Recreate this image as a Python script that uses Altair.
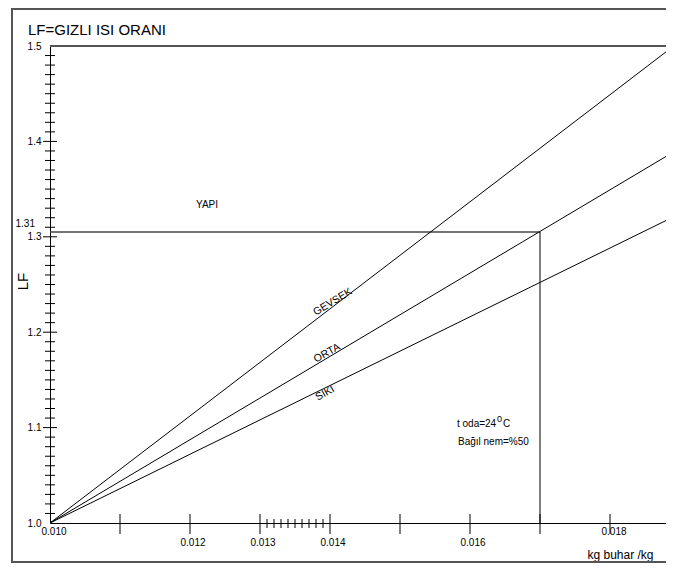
import altair as alt
import pandas as pd

FONT = "Liberation Sans"

# ---- data -------------------------------------------------------------
X_MIN, X_MAX = 0.010, 0.0188
Y_MIN, Y_MAX = 1.0, 1.5

line_x = [0.010, 0.01891]
gevsek_lf = [1.0, 1.5]
orta_lf = [1.0, 1.389]
siki_lf = [1.0, 1.321]

label_names = ["GEVSEK", "ORTA", "SIKI"]
label_x = [0.01404, 0.013957, 0.013929]
label_y = [1.2317, 1.178, 1.136]
label_angle = [329, 331, 331]

y_label_values = [1.0, 1.1, 1.2, 1.3, 1.4, 1.5]
y_major_ticks = [1.1, 1.2, 1.3, 1.4]
y_minor_ticks = [round(1 + i / 100, 2) for i in range(1, 50) if i % 10 != 0]

x_major_ticks = [0.011, 0.012, 0.013, 0.014, 0.015, 0.016, 0.017, 0.018]
x_minor_ticks = [0.0131, 0.0132, 0.0133, 0.0134, 0.0135, 0.0136, 0.0137, 0.0138, 0.0139]

x_labels_high = ["0.010", "0.018"]
x_labels_high_v = [0.010, 0.018]
x_labels_low = ["0.012", "0.013", "0.014", "0.016"]
x_labels_low_v = [0.012, 0.013, 0.014, 0.016]

ref_x = 0.017
ref_y = 1.305

W, H = 616, 477

# ---- tables -----------------------------------------------------------
lines_df = pd.DataFrame({
    "x": line_x * 3,
    "lf": gevsek_lf + orta_lf + siki_lf,
    "seri": ["GEVSEK"] * 2 + ["ORTA"] * 2 + ["SIKI"] * 2,
})
labels_df = pd.DataFrame({"t": label_names, "x": label_x, "y": label_y, "a": label_angle})

xs = alt.Scale(domain=[X_MIN, X_MAX], nice=False, zero=False)
ys = alt.Scale(domain=[Y_MIN, Y_MAX], nice=False, zero=False)

one = pd.DataFrame({"d": [0]})

# frame
frame = alt.Chart(one).mark_rect(fill=None, stroke="#555555", strokeWidth=2).encode(
    x=alt.value(-38), x2=alt.value(W + 30), y=alt.value(-37), y2=alt.value(H + 39)
)

# base with axes
base = alt.Chart(lines_df).mark_line(color="black", strokeWidth=1, clip=True).encode(
    x=alt.X("x:Q", scale=xs, axis=alt.Axis(
        labels=False, ticks=False, grid=False, domain=True, domainColor="black",
        domainWidth=1, title="kg buhar /kg", titleFont=FONT, titleFontSize=12,
        titleFontWeight="normal", titleColor="black", titleX=570, titleY=31,
        titleBaseline="middle", titleAlign="center")),
    y=alt.Y("lf:Q", scale=ys, axis=alt.Axis(
        values=y_label_values, format=".1f", ticks=False, grid=False, domain=True,
        domainColor="black", domainWidth=1, labelFont=FONT, labelFontSize=10,
        labelColor="black", labelPadding=9, labelFlush=False, title="LF",
        titleFont=FONT, titleFontSize=15, titleFontWeight="normal",
        titleColor="black", titleX=-28, titleY=235, titleBaseline="middle")),
    detail="seri:N",
)

# top line at 1.5
top_line = alt.Chart(pd.DataFrame({"x": [X_MIN], "x2": [0.01891], "y": [Y_MAX]})).mark_rule(
    color="#555555", strokeWidth=2).encode(
    x=alt.X("x:Q", scale=xs), x2="x2:Q", y=alt.Y("y:Q", scale=ys))

# reference lines
ref_h = alt.Chart(pd.DataFrame({"x": [X_MIN], "x2": [ref_x], "y": [ref_y]})).mark_rule(
    color="#444444", strokeWidth=1.5).encode(
    x=alt.X("x:Q", scale=xs), x2="x2:Q", y=alt.Y("y:Q", scale=ys))
ref_v = alt.Chart(pd.DataFrame({"x": [ref_x], "y": [Y_MIN], "y2": [ref_y]})).mark_rule(
    color="black", strokeWidth=1).encode(
    x=alt.X("x:Q", scale=xs), y=alt.Y("y:Q", scale=ys), y2="y2:Q")

# ticks
ytm = alt.Chart(pd.DataFrame({"v": y_major_ticks})).mark_rule(color="black").encode(
    y=alt.Y("v:Q", scale=ys), x=alt.value(-7), x2=alt.value(7))
ytn = alt.Chart(pd.DataFrame({"v": y_minor_ticks})).mark_rule(color="black").encode(
    y=alt.Y("v:Q", scale=ys), x=alt.value(-5), x2=alt.value(5))
xtm = alt.Chart(pd.DataFrame({"v": x_major_ticks})).mark_rule(color="black").encode(
    x=alt.X("v:Q", scale=xs), y=alt.value(H - 9), y2=alt.value(H + 11))
xtn = alt.Chart(pd.DataFrame({"v": x_minor_ticks})).mark_rule(color="black").encode(
    x=alt.X("v:Q", scale=xs), y=alt.value(H - 4), y2=alt.value(H + 5))

# x labels
xl_hi = alt.Chart(pd.DataFrame({"t": x_labels_high, "v": x_labels_high_v, "y": [Y_MIN] * 2})).mark_text(
    font=FONT, fontSize=10, color="black", dx=4, dy=9, baseline="middle").encode(
    x=alt.X("v:Q", scale=xs), y=alt.Y("y:Q", scale=ys), text="t:N")
xl_lo = alt.Chart(pd.DataFrame({"t": x_labels_low, "v": x_labels_low_v, "y": [Y_MIN] * 4})).mark_text(
    font=FONT, fontSize=10, color="black", dx=3, dy=20, baseline="middle").encode(
    x=alt.X("v:Q", scale=xs), y=alt.Y("y:Q", scale=ys), text="t:N")

# extra y label 1.31
yl131 = alt.Chart(pd.DataFrame({"t": ["1.31"], "x": [X_MIN], "y": [1.31]})).mark_text(
    font=FONT, fontSize=10, color="black", dx=-15, dy=-3, align="right", baseline="middle").encode(
    x=alt.X("x:Q", scale=xs), y=alt.Y("y:Q", scale=ys), text="t:N")

# series labels
slab = alt.Chart(labels_df).mark_text(font=FONT, fontSize=10.5, color="black", baseline="middle").encode(
    x=alt.X("x:Q", scale=xs), y=alt.Y("y:Q", scale=ys), text="t:N",
    angle=alt.Angle("a:Q", scale=None))

# title
title = alt.Chart(pd.DataFrame({"t": ["LF=GIZLI ISI ORANI"], "x": [X_MIN], "y": [Y_MAX]})).mark_text(
    font=FONT, fontSize=15, color="black", dx=-22, dy=-11, align="left", baseline="alphabetic").encode(
    x=alt.X("x:Q", scale=xs), y=alt.Y("y:Q", scale=ys), text="t:N")

# annotations
yapi = alt.Chart(pd.DataFrame({"t": ["YAPI"], "x": [0.012243], "y": [1.333]})).mark_text(
    font=FONT, fontSize=10, color="black", baseline="middle").encode(
    x=alt.X("x:Q", scale=xs), y=alt.Y("y:Q", scale=ys), text="t:N")

ann_x = 0.015814
toda = alt.Chart(pd.DataFrame({"t": ["t oda=24"], "x": [ann_x], "y": [1.1006]})).mark_text(
    font=FONT, fontSize=10, color="black", align="left", baseline="alphabetic").encode(
    x=alt.X("x:Q", scale=xs), y=alt.Y("y:Q", scale=ys), text="t:N")
sup0 = alt.Chart(pd.DataFrame({"t": ["0"], "x": [ann_x], "y": [1.1006]})).mark_text(
    font=FONT, fontSize=9, color="black", align="left", baseline="alphabetic", dx=40, dy=-5).encode(
    x=alt.X("x:Q", scale=xs), y=alt.Y("y:Q", scale=ys), text="t:N")
cdeg = alt.Chart(pd.DataFrame({"t": ["C"], "x": [ann_x], "y": [1.1006]})).mark_text(
    font=FONT, fontSize=10, color="black", align="left", baseline="alphabetic", dx=46).encode(
    x=alt.X("x:Q", scale=xs), y=alt.Y("y:Q", scale=ys), text="t:N")
nem = alt.Chart(pd.DataFrame({"t": ["Bağıl nem=%50"], "x": [ann_x], "y": [1.0818]})).mark_text(
    font=FONT, fontSize=10, color="black", align="left", baseline="alphabetic", dx=1).encode(
    x=alt.X("x:Q", scale=xs), y=alt.Y("y:Q", scale=ys), text="t:N")

chart = alt.layer(
    frame, top_line, ref_h, ref_v, base, ytm, ytn, xtm, xtn, xl_hi, xl_lo, yl131,
    slab, title, yapi, toda, sup0, cdeg, nem
).properties(
    width=W, height=H,
    autosize=alt.AutoSizeParams(type="none"),
    padding={"left": 42, "top": 38, "right": 0, "bottom": 41},
    background="white",
).configure_view(stroke=None)

chart.save("out.html", embed_options={"renderer": "svg", "actions": False})
